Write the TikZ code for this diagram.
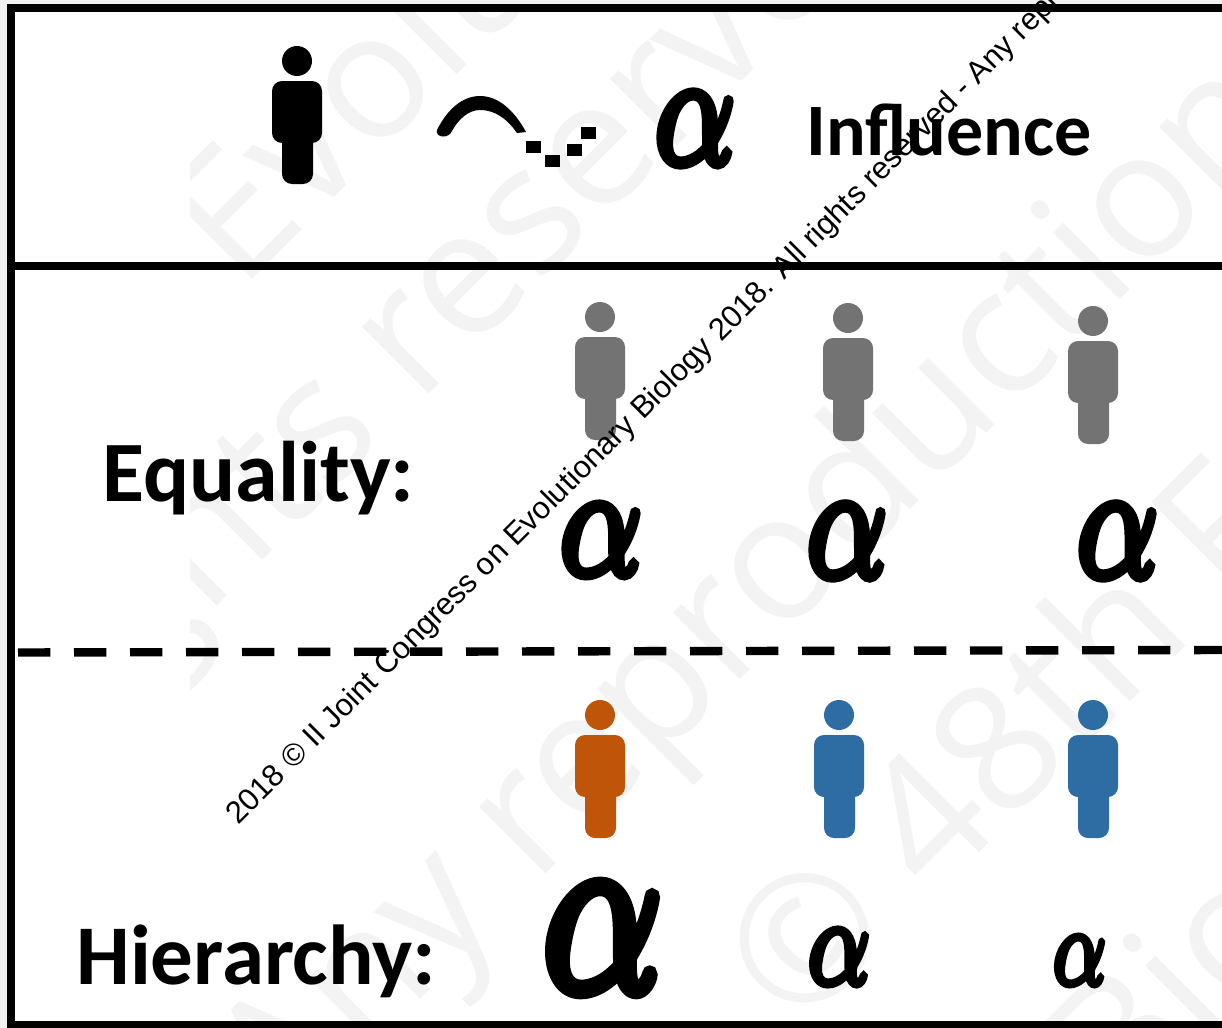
\documentclass[tikz,border=0pt]{standalone}
\usepackage{graphicx}
\usepackage{fontspec}
\setmainfont{Carlito}
\newfontfamily\wmfont{Open Sans}
\newfontfamily\smallfont{Liberation Sans}
\definecolor{wm}{HTML}{F3F3F3}
\definecolor{margin}{HTML}{F0F0F0}
\definecolor{grayp}{HTML}{737373}
\definecolor{orangep}{HTML}{BF5508}
\definecolor{bluep}{HTML}{2E6DA4}
\tikzset{
  wmark/.style={anchor=base west,rotate=45,inner sep=0pt,text=wm,font=\wmfont\fontsize{88}{88}\selectfont},
  label/.style={anchor=base west,inner sep=0pt,font=\bfseries\fontsize{37}{37}\selectfont},
  biglabel/.style={label,font=\bfseries\fontsize{43}{43}\selectfont},
  alphanode/.style={inner sep=0pt,anchor=center},
  frameline/.style={line width=4pt,line cap=butt},
  sq/.style={fill=black,draw=none}
}
\newcommand{\alphaglyph}[2]{\resizebox{#1pt}{#2pt}{\mbox{\special{pdf:code 0 G 2 Tr 0.6 w}$\alpha$\special{pdf:code 0 Tr}}}}
\newcommand{\person}[3]{%
 \begin{scope}[shift={(#1,#2)}]
  \fill[#3] (0,0) circle[radius=15];
  \fill[#3,rounded corners=5pt] (-25,20) rectangle (25,82);
  \fill[#3,rounded corners=5pt] (-15,60) rectangle (16,123);
 \end{scope}}
\begin{document}
\begin{tikzpicture}[x=0.5pt,y=-0.5pt]
\useasboundingbox (0,0) rectangle (1222,1028);
\fill[margin] (0,0) rectangle (1222,1028);
\fill[white] (7,4) rectangle (1222,1028);
\begin{scope}
\clip (190,12) rectangle (1222,1028);
\node[wmark] (w1) at (240,292) {Evolutionary};
\node[wmark] (w2) at (-118,941) {All rights reserved};
\node[wmark] (w3) at (285,1135) {Any reproduction};
\node[wmark] (w4) at (797,1035) {© 48th FASEB};
\node[wmark] (w5) at (1121,1124) {Biology};
\end{scope}
\draw[frameline] (11,4) -- (11,1028);
\draw[frameline] (7,8) -- (1222,8);
\draw[frameline] (7,265.5) -- (1222,265.5);
\draw[frameline] (7,1025) -- (1222,1025);
\draw[line width=4.2pt,dash pattern=on 16.15pt off 11.85pt] (18,652.5) -- (1222,650);
\person{297}{61}{black}
\person{600}{317}{grayp}
\person{848}{318}{grayp}
\person{1093}{321}{grayp}
\person{600}{715}{orangep}
\person{839}{715}{bluep}
\person{1093}{715}{bluep}
% arc
\fill[black] (437,130) .. controls (447,110) and (462,96) .. (480,96)
  .. controls (498,96) and (514,110) .. (526,132) -- (517,133)
  .. controls (508,120) and (496,110) .. (480,110)
  .. controls (468,110) and (458,120) .. (452,131)
  .. controls (449,139) and (435,138) .. (437,130) -- cycle;
\fill[sq] (526,141) rectangle (541,153);
\fill[sq] (545,155) rectangle (560,167);
\fill[sq] (567,144) rectangle (582,156);
\fill[sq] (581,127) rectangle (596,139);
\node[alphanode] (a0) at (695,128.5) {\alphaglyph{40}{34.5}};
\node[alphanode] (a1) at (601,540) {\alphaglyph{41}{34}};
\node[alphanode] (a2) at (847,541) {\alphaglyph{40}{35}};
\node[alphanode] (a3) at (1117.5,541) {\alphaglyph{40.5}{35}};
\node[alphanode] (a4) at (602.5,938) {\alphaglyph{59.5}{51.5}};
\node[alphanode] (a5) at (839,957) {\alphaglyph{31}{26.5}};
\node[alphanode] (a6) at (1079.5,960.5) {\alphaglyph{26.5}{23.5}};
\node[label] (influence) at (806,155) {Influence};
\node[biglabel] (equality) at (102,501) {Equality:};
\node[biglabel,font=\bfseries\fontsize{42.5}{42.5}\selectfont] (hierarchy) at (76,984) {Hierarchy:};
\begin{scope}
\clip (0,0) rectangle (1222,1028);
\node[anchor=base west,rotate=45,inner sep=0pt,font=\smallfont\fontsize{15.5}{15.5}\selectfont] (credit) at (238,826) {2018 © II Joint Congress on Evolutionary Biology 2018. All rights reserved - Any reproduction};
\end{scope}
\end{tikzpicture}
\end{document}
